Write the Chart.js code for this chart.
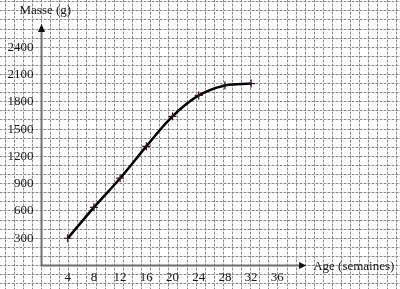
<!DOCTYPE html>
<html>
<head>
<meta charset="utf-8">
<script src="https://cdn.jsdelivr.net/npm/chart.js@4.4.0/dist/chart.umd.min.js"></script>
<style>
    html, body { margin: 0; padding: 0; background: #fff; }
    #wrap { width: 400px; height: 289px; }
</style>
</head>
<body>
<div id="wrap"><canvas id="massChart" width="400" height="289"></canvas></div>
<script>
// ### DATA ###
const ages = [4, 8, 12, 16, 20, 24, 28, 32];
const masses = [300, 640, 960, 1310, 1640, 1870, 1980, 2000];
const xTickLabels = [4, 8, 12, 16, 20, 24, 28, 32, 36];
const yTickLabels = [300, 600, 900, 1200, 1500, 1800, 2100, 2400];
const xTitle = 'Age (semaines)';
const yTitle = 'Masse (g)';

// axis extents (where the arrows stop), in data units
const xAxisEnd = 40.4;
const yAxisEnd = 2655;

const serif = '"Liberation Serif", "DejaVu Serif", serif';

// Grid scales are in "cell" units: one cell = one square of the graph paper
function integerTicks(axis) {
    const ticks = [];
    for (let v = Math.ceil(axis.min); v <= Math.floor(axis.max); v++) {
        ticks.push({ value: v });
    }
    axis.ticks = ticks;
}

// axes placed inside the chart area must not shrink it
function noPadding(axis) {
    axis.paddingTop = 0;
    axis.paddingBottom = 0;
    axis.paddingLeft = 0;
    axis.paddingRight = 0;
}

function gridScale(axis, min, max, color, dash) {
    return {
        type: 'linear',
        axis: axis,
        position: axis === 'x' ? 'bottom' : 'left',
        min: min,
        max: max,
        afterBuildTicks: integerTicks,
        ticks: { display: false },
        border: { display: false, dash: dash },
        grid: { color: color, lineWidth: 1, drawTicks: false }
    };
}

// ### AXES + TITLES ###
const axesPlugin = {
    id: 'axes',
    beforeDatasetsDraw(chart) {
        const { ctx, scales: { x, y } } = chart;
        const x0 = x.getPixelForValue(0);
        const y0 = y.getPixelForValue(0);
        const xEnd = x.getPixelForValue(xAxisEnd);
        const yEnd = y.getPixelForValue(yAxisEnd);
        ctx.save();
        ctx.strokeStyle = '#6f6f6f';
        ctx.lineWidth = 2;
        ctx.beginPath();
        ctx.moveTo(x0, y0);
        ctx.lineTo(xEnd - 5, y0);
        ctx.moveTo(x0, y0 + 1);
        ctx.lineTo(x0, yEnd + 5);
        ctx.stroke();
        // arrow heads
        ctx.fillStyle = '#111';
        ctx.beginPath();
        ctx.moveTo(xEnd, y0);
        ctx.lineTo(xEnd - 7, y0 - 3.5);
        ctx.lineTo(xEnd - 7, y0 + 3.5);
        ctx.closePath();
        ctx.fill();
        ctx.beginPath();
        ctx.moveTo(x0, yEnd);
        ctx.lineTo(x0 - 3.5, yEnd + 8);
        ctx.lineTo(x0 + 3.5, yEnd + 8);
        ctx.closePath();
        ctx.fill();
        ctx.restore();
    },
    afterDraw(chart) {
        const { ctx, scales: { x, y } } = chart;
        ctx.save();
        ctx.font = '13px ' + serif;
        ctx.fillStyle = '#1a1a1a';
        ctx.textAlign = 'left';
        ctx.textBaseline = 'alphabetic';
        ctx.fillText(yTitle, x.getPixelForValue(0) - 22, 14);
        ctx.fillText(xTitle, x.getPixelForValue(xAxisEnd) + 7, y.getPixelForValue(0) + 4);
        ctx.restore();
    }
};

// ### CHART ###
new Chart(document.getElementById('massChart'), {
    type: 'line',
    data: {
        datasets: [{
            xAxisID: 'x',
            yAxisID: 'y',
            data: ages.map((a, i) => ({ x: a, y: masses[i] })),
            borderColor: '#000',
            borderWidth: 2.5,
            tension: 0.4,
            pointStyle: 'cross',
            pointRadius: 4,
            pointBorderWidth: 1.2,
            pointBorderColor: '#3a1212',
            fill: false
        }]
    },
    options: {
        responsive: false,
        animation: false,
        devicePixelRatio: 1,
        layout: { padding: 0, autoPadding: false },
        plugins: { legend: { display: false }, tooltip: { enabled: false } },
        scales: {
            gxLight: gridScale('x', -4.563, 39.42, '#d4d4d4', []),
            gyLight: gridScale('y', -2.584, 29.19, '#d4d4d4', []),
            gxDark: gridScale('x', -4.563, 39.42, '#8a8a8a', [2, 2]),
            gyDark: gridScale('y', -2.584, 29.19, '#8a8a8a', [2, 2]),
            x: {
                type: 'linear',
                position: { y: 0 },
                min: -6.34,
                max: 54.73,
                afterBuildTicks: axis => { axis.ticks = xTickLabels.map(v => ({ value: v })); },
                afterFit: noPadding,
                border: { display: false },
                grid: { display: false, drawTicks: false },
                ticks: { padding: 4, color: '#1a1a1a', font: { family: serif, size: 13 }, callback: v => String(v) }
            },
            y: {
                type: 'linear',
                position: { x: -1.22 },
                min: -258,
                max: 2919,
                afterBuildTicks: axis => { axis.ticks = yTickLabels.map(v => ({ value: v })); },
                afterFit: noPadding,
                border: { display: false },
                grid: { display: false, drawTicks: false },
                ticks: { padding: 0, color: '#1a1a1a', font: { family: serif, size: 13 }, callback: v => String(v) }
            }
        }
    },
    plugins: [axesPlugin]
});
</script>
</body>
</html>
